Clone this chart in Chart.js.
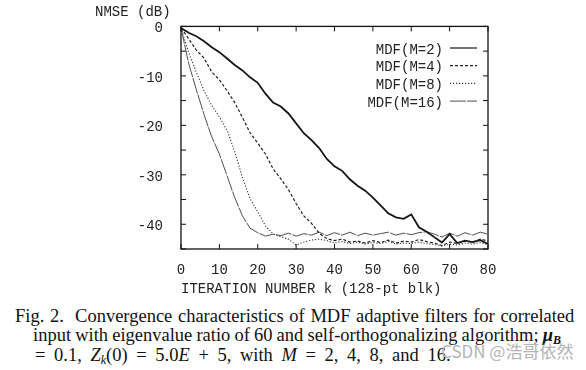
<!DOCTYPE html>
<html lang="en">
<head>
<meta charset="UTF-8">
<title>MDF convergence</title>
<script src="https://cdn.jsdelivr.net/npm/chart.js"></script>
<style>
  body { margin:0; background:#fff; }
  #wrap { position:relative; width:586px; height:370px; overflow:hidden; background:#fff; }
  #chartBox { position:absolute; left:0; top:0; width:586px; height:300px; }
  .cap { position:absolute; font-family:"Liberation Serif","Times New Roman",serif; font-size:18.5px; line-height:20px; color:#111; white-space:nowrap; }
  .cap sub { font-size:12px; line-height:0; vertical-align:-3px; }
  .mark { position:absolute; left:441px; top:341px; font-family:"Noto Sans CJK SC","Noto Sans",sans-serif; font-size:17px; line-height:20px; color:#b4b4b4; white-space:nowrap; }
</style>
<script>
  // iteration number k (128-pt blocks)
  var iterations = [0,2,4,6,8,10,12,14,16,18,20,22,24,26,28,30,32,34,36,38,40,
                    42,44,46,48,50,52,54,56,58,60,62,64,66,68,70,72,74,76,78,80];

  // NMSE in dB
  var mdfM2 = [-0.3,-1.3,-2.0,-3.0,-4.2,-5.2,-6.5,-7.8,-8.9,-10.3,-11.4,
               -13.6,-15.4,-16.2,-17.6,-19.6,-21.6,-23.0,-24.6,-26.8,-28.3,
               -29.2,-30.9,-32.2,-33.2,-34.6,-36.2,-37.8,-38.6,-38.9,-38.0,
               -40.6,-41.5,-42.6,-43.7,-42.0,-43.8,-43.3,-43.6,-43.2,-44.0];
  var mdfM4 = [-0.3,-2.5,-4.8,-6.4,-9.2,-10.8,-13.0,-15.4,-18.4,-21.5,-23.6,
               -25.8,-28.8,-30.8,-33.0,-35.8,-38.3,-39.8,-41.8,-42.9,-43.3,
               -43.0,-43.6,-43.4,-43.8,-43.3,-43.7,-43.2,-43.8,-43.4,-43.6,
               -43.1,-43.5,-43.8,-44.3,-43.6,-43.9,-43.4,-43.6,-43.0,-43.4];
  var mdfM8 = [-0.3,-5.3,-9.3,-13.0,-16.0,-18.3,-21.0,-25.3,-30.5,-34.8,-37.5,
               -40.3,-42.0,-42.5,-43.0,-44.2,-43.6,-43.2,-43.0,-43.3,-43.8,
               -43.5,-43.9,-43.6,-44.0,-43.7,-43.9,-43.5,-44.0,-43.8,-43.9,
               -43.6,-43.9,-44.1,-44.4,-44.0,-44.2,-43.8,-44.0,-43.7,-44.1];
  var mdfM16 = [-0.3,-7.5,-12.8,-17.8,-22.3,-25.8,-30.2,-34.6,-38.3,-40.8,-41.7,
                -42.4,-42.0,-42.3,-41.8,-42.4,-41.9,-42.2,-41.6,-42.3,-41.7,
                -42.2,-41.6,-42.3,-41.8,-42.2,-41.9,-41.6,-42.2,-41.8,-42.1,
                -41.7,-41.5,-42.0,-42.6,-41.8,-42.4,-41.7,-42.2,-41.6,-42.0];

  var seriesNames = ['MDF(M=2)','MDF(M=4)','MDF(M=8)','MDF(M=16)'];
  var yLabels = [0,-10,-20,-30,-40];

  var monoFont = '"Liberation Mono","DejaVu Sans Mono",monospace';

  function pts(vals){
    return iterations.map(function(k,i){ return {x:k, y:vals[i]}; });
  }

  // frame, inward ticks, y title and legend
  var decorPlugin = {
    id:'decor',
    afterDraw:function(chart){
      var ctx = chart.ctx, a = chart.chartArea;
      var xs = chart.scales.x, ys = chart.scales.y;
      ctx.save();
      ctx.strokeStyle = '#111';
      ctx.lineWidth = 1.3;
      ctx.strokeRect(a.left, a.top, a.right-a.left, a.bottom-a.top);
      ctx.lineWidth = 1;
      ctx.beginPath();
      xs.ticks.forEach(function(t){
        var px = xs.getPixelForValue(t.value);
        ctx.moveTo(px, a.bottom); ctx.lineTo(px, a.bottom-5);
        ctx.moveTo(px, a.top); ctx.lineTo(px, a.top+5);
      });
      ys.ticks.forEach(function(t){
        var py = ys.getPixelForValue(t.value);
        ctx.moveTo(a.left, py); ctx.lineTo(a.left+5, py);
        ctx.moveTo(a.right, py); ctx.lineTo(a.right-5, py);
      });
      ctx.stroke();

      ctx.font = '14px ' + monoFont;
      ctx.fillStyle = '#222';
      ctx.textBaseline = 'middle';
      ctx.textAlign = 'left';
      ctx.fillText('NMSE (dB)', 95, 12);

      chart.data.datasets.forEach(function(ds,i){
        var y = 50 + i*17.7;
        ctx.textAlign = 'right';
        ctx.fillText(ds.label, 443, y);
        ctx.strokeStyle = ds.borderColor;
        ctx.lineWidth = Math.min(ds.borderWidth, 1.2);
        ctx.setLineDash(ds.borderDash || []);
        ctx.beginPath();
        ctx.moveTo(450, y-2); ctx.lineTo(477, y-2);
        ctx.stroke();
        ctx.setLineDash([]);
      });
      ctx.restore();
    }
  };

  window.addEventListener('load', function(){
    var ctx = document.getElementById('myChart');
    new Chart(ctx, {
      type:'line',
      data:{
        datasets:[
          {label:seriesNames[0], data:pts(mdfM2), borderColor:'#151515', borderWidth:1.8, borderDash:[]},
          {label:seriesNames[1], data:pts(mdfM4), borderColor:'#222', borderWidth:1.2, borderDash:[3,2]},
          {label:seriesNames[2], data:pts(mdfM8), borderColor:'#333', borderWidth:1.1, borderDash:[1.2,1.8]},
          {label:seriesNames[3], data:pts(mdfM16), borderColor:'#3a3a3a', borderWidth:0.9, borderDash:[16,1.2]}
        ]
      },
      options:{
        responsive:false,
        animation:false,
        devicePixelRatio:1,
        layout:{ padding:{ left:0, top:24, right:98, bottom:0 } },
        elements:{ point:{ radius:0 }, line:{ tension:0 } },
        plugins:{ legend:{ display:false }, tooltip:{ enabled:false } },
        scales:{
          x:{
            type:'linear', min:0, max:80,
            grid:{ display:false, drawTicks:false },
            border:{ display:false },
            ticks:{ stepSize:10, padding:13, color:'#222', font:{ family:monoFont, size:14 }, maxRotation:0 },
            title:{ display:true, text:'ITERATION NUMBER k (128-pt blk)', align:'start', color:'#222',
                    font:{ family:monoFont, size:14 }, padding:{ top:0, bottom:2 } },
            afterFit:function(s){ s.height = 51; }
          },
          y:{
            min:-45, max:0,
            grid:{ display:false, drawTicks:false },
            border:{ display:false },
            ticks:{ stepSize:5, padding:18, labelOffset:2, color:'#222', font:{ family:monoFont, size:14 },
                    callback:function(v){ return yLabels.indexOf(v) >= 0 ? String(v) : ''; } },
            afterFit:function(s){ s.width = 181; }
          }
        }
      },
      plugins:[decorPlugin]
    });
  });
</script>
</head>
<body>
<div id="wrap">
  <div id="chartBox"><canvas id="myChart" width="586" height="300"></canvas></div>
  <div class="cap" style="left:15px; top:306px; word-spacing:1px;">Fig. 2.&nbsp; Convergence characteristics of MDF adaptive filters for correlated</div>
  <div class="cap" style="left:33px; top:325px; word-spacing:-0.5px;">input with eigenvalue ratio of 60 and self-orthogonalizing algorithm; <b><i>μ</i><sub><i>B</i></sub></b></div>
  <div class="cap" style="left:35px; top:345px; word-spacing:4px;">= 0.1, <i>Z</i><sub><i>k</i></sub>(0) = 5.0<i>E</i> + 5, with <i>M</i> = 2, 4, 8, and 16.</div>
  <div class="mark">CSDN @浩哥依然</div>
</div>
</body>
</html>
